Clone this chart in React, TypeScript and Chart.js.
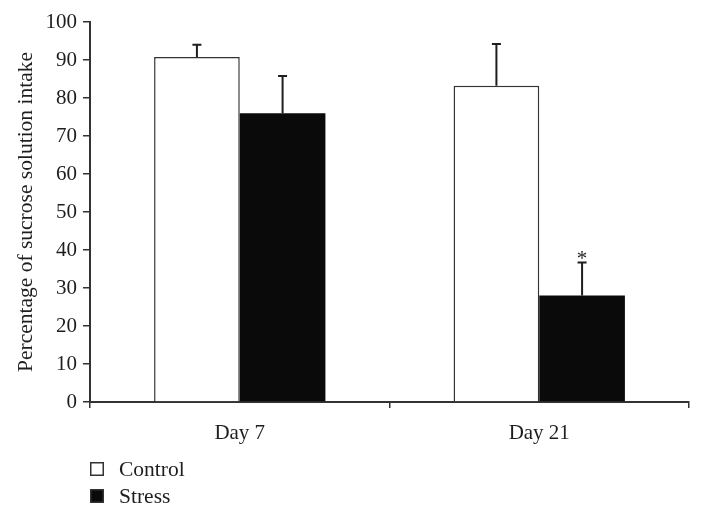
import React, { useEffect, useRef } from "react";
import { Chart, registerables } from "chart.js";

Chart.register(...registerables);

const categories = ["Day 7", "Day 21"];
const controlValues = [90.8, 83.2];
const controlErrors = [3.2, 11.0];
const stressValues = [76.0, 28.0];
const stressErrors = [9.8, 8.7];
const controlMarks = ["", ""];
const stressMarks = ["", "*"];
const yTicks = [0, 10, 20, 30, 40, 50, 60, 70, 80, 90, 100];

const FONT = "'Liberation Serif', 'Times New Roman', serif";
const INK = "#1e1e1e";

const errorPlugin = {
  id: "errorBars",
  afterDatasetsDraw(chart: any) {
    const ctx = chart.ctx;
    const yScale = chart.scales.y;
    chart.data.datasets.forEach((ds: any, di: number) => {
      const meta = chart.getDatasetMeta(di);
      meta.data.forEach((bar: any, i: number) => {
        const v = ds.data[i];
        const e = ds.errors[i];
        const yTop = yScale.getPixelForValue(v + e);
        const yBar = yScale.getPixelForValue(v);
        ctx.save();
        ctx.strokeStyle = INK;
        ctx.lineWidth = 2;
        ctx.beginPath();
        ctx.moveTo(bar.x, yBar);
        ctx.lineTo(bar.x, yTop);
        ctx.moveTo(bar.x - 4.5, yTop);
        ctx.lineTo(bar.x + 4.5, yTop);
        ctx.stroke();
        const mark = ds.marks[i];
        if (mark) {
          ctx.fillStyle = INK;
          ctx.font = `21px ${FONT}`;
          ctx.textAlign = "center";
          ctx.textBaseline = "alphabetic";
          ctx.fillText(mark, bar.x, yTop + 2);
        }
        ctx.restore();
      });
    });
  },
};

const legendPlugin = {
  id: "customLegend",
  afterDraw(chart: any) {
    const ctx = chart.ctx;
    const left = chart.chartArea.left;
    const baseY = chart.chartArea.bottom + 60;
    chart.data.datasets.forEach((ds: any, di: number) => {
      const y = baseY + di * 27;
      ctx.save();
      ctx.fillStyle = ds.backgroundColor;
      ctx.fillRect(left, y, 14, 14);
      ctx.strokeStyle = "#333";
      ctx.lineWidth = 1.5;
      ctx.strokeRect(left + 0.75, y + 0.75, 12.5, 12.5);
      ctx.fillStyle = INK;
      ctx.font = `21.5px ${FONT}`;
      ctx.textAlign = "left";
      ctx.textBaseline = "middle";
      ctx.fillText(ds.label, left + 29, y + 8);
      ctx.restore();
    });
  },
};

export default function App() {
  const ref = useRef<HTMLCanvasElement | null>(null);
  useEffect(() => {
    if (!ref.current) return;
    const chart = new Chart(ref.current, {
      type: "bar",
      data: {
        labels: categories,
        datasets: [
          {
            label: "Control",
            data: controlValues,
            errors: controlErrors,
            marks: controlMarks,
            backgroundColor: "#ffffff",
            borderColor: "#333333",
            borderWidth: 1.5,
            categoryPercentage: 0.572,
            barPercentage: 1.0,
          } as any,
          {
            label: "Stress",
            data: stressValues,
            errors: stressErrors,
            marks: stressMarks,
            backgroundColor: "#0a0a0a",
            borderColor: "#0a0a0a",
            borderWidth: 0,
            categoryPercentage: 0.572,
            barPercentage: 1.0,
          } as any,
        ],
      },
      options: {
        animation: false,
        responsive: true,
        maintainAspectRatio: false,
        layout: { padding: { left: 0, top: 22, right: 15, bottom: 0 } },
        plugins: {
          legend: { display: false },
          tooltip: { enabled: false },
        },
        scales: {
          x: {
            grid: {
              display: true,
              drawOnChartArea: false,
              drawTicks: true,
              tickLength: 6,
              color: "#333",
              lineWidth: 1.5,
              offset: true,
            },
            border: { display: true, color: "#333", width: 2 },
            ticks: {
              color: INK,
              font: { family: FONT, size: 21 },
              padding: 13,
            },
            afterFit(scale: any) {
              scale.height = 115;
            },
          },
          y: {
            min: 0,
            max: 100,
            afterBuildTicks(scale: any) {
              scale.ticks = yTicks.map((v) => ({ value: v }));
            },
            grid: {
              display: true,
              drawOnChartArea: false,
              drawTicks: true,
              tickLength: 7,
              color: "#333",
              lineWidth: 1.5,
            },
            border: { display: true, color: "#333", width: 2 },
            ticks: {
              color: INK,
              font: { family: FONT, size: 21 },
              padding: 6,
            },
            title: {
              display: true,
              text: "Percentage of sucrose solution intake",
              color: INK,
              font: { family: FONT, size: 21.5 },
              padding: { top: 13, bottom: 0 },
            },
            afterFit(scale: any) {
              scale.width = 90;
            },
          },
        },
      } as any,
      plugins: [errorPlugin, legendPlugin],
    });
    return () => chart.destroy();
  }, []);
  return (
    <div style={{ position: "fixed", left: 0, top: 0, width: 704, height: 517, background: "#fff" }}>
      <canvas ref={ref} />
    </div>
  );
}
